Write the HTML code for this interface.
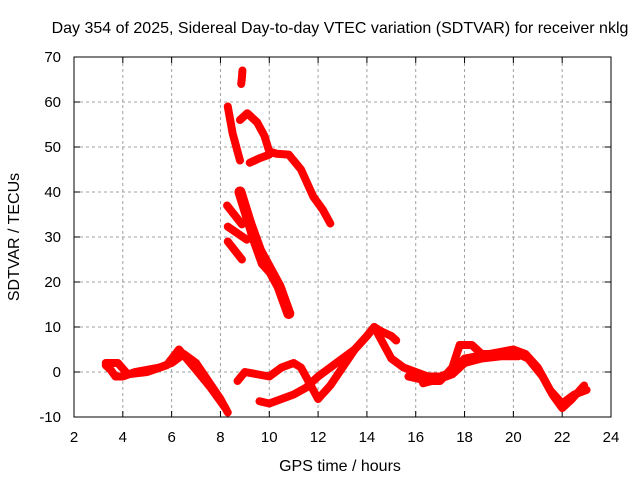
<!DOCTYPE html>
<html><head><meta charset="utf-8"><style>
body{margin:0;background:#fff}
svg{display:block;font-family:"Liberation Sans",sans-serif}
</style></head><body>
<svg id="c" width="640" height="480">
<text x="340" y="33" text-anchor="middle" font-size="16">Day 354 of 2025, Sidereal Day-to-day VTEC variation (SDTVAR) for receiver nklg</text>
<text x="340" y="471" text-anchor="middle" font-size="16">GPS time / hours</text>
<text x="19" y="237" text-anchor="middle" font-size="16" transform="rotate(-90 19 237)">SDTVAR / TECUs</text>
<g id="grid"></g><g id="marks"></g>
<rect x="74" y="57" width="537" height="360" fill="none" stroke="#000" stroke-width="1"/>
</svg>
<script>
const xTicks=[2,4,6,8,10,12,14,16,18,20,22,24];
const yTicks=[-10,0,10,20,30,40,50,60,70];
const trackA=[[3.3,1.5],[3.5,0.5],[3.7,-1],[4,-1],[4.5,0],[5,0.5],[5.5,1],[6,2],[6.5,4],[7,2],[7.5,-2],[8,-6],[8.3,-9]];
const trackA2=[[3.3,2],[3.8,2],[4.2,-0.5],[5,0],[5.8,1.5],[6.3,5],[7,0.5],[7.6,-3.5],[8.2,-8]];
const trackB=[[8.7,-2],[9,0],[9.5,-0.5],[10,-1],[10.5,1],[11,2],[11.3,1],[11.7,-3],[12,-6],[12.5,-3],[13,1],[13.5,5],[14,8],[14.3,10]];
const trackC=[[9.6,-6.5],[10,-7],[10.5,-6],[11,-5],[11.5,-3.5],[12,-1],[12.5,1],[13,3],[13.5,5],[14,8],[14.3,10],[14.6,9],[15,8],[15.2,7]];
const trackD=[[14.3,10],[14.6,7],[15,3],[15.5,1],[16,0],[16.5,-1],[17,-1],[17.5,0],[18,3],[18.5,3.5],[19,4],[19.5,4.5],[20,5],[20.5,4],[21,1],[21.5,-4],[22,-7],[22.5,-5],[23,-4]];
const trackD2=[[15.7,-1],[16.5,-2],[17,-2],[17.5,1],[17.8,6],[18.3,6],[18.7,4],[19.3,4],[20,4.5],[20.6,3],[21.2,-1],[21.6,-5],[22,-8],[22.4,-6],[22.9,-3]];
const trackD3=[[16.3,-2.5],[17,-1.5],[17.5,-0.5],[18,2],[18.7,3],[19.5,3.5],[20.2,3.5]];
const cluster=[[8.85,64],[8.88,65.5],[8.9,67]];
const trackE=[[8.3,59],[8.5,53],[8.8,47]];
const trackF=[[8.8,56],[9.1,57.5],[9.5,55.5],[9.8,52.5],[10,49],[10.3,48.5],[10.8,48.3],[11.3,45],[11.8,39],[12.2,36],[12.5,33]];
const trackF2=[[9.2,46.5],[9.6,47.5],[10,48.3]];
const trackG=[[8.8,40],[9.2,33],[9.6,27],[10,23],[10.4,19],[10.8,13]];
const trackG2=[[8.9,38],[9.3,30],[9.7,24],[10.2,21]];
const trackH1=[[8.27,37],[8.88,32.8]];
const trackH2=[[8.3,32.3],[9.08,29.4]];
const trackH3=[[8.3,29],[8.88,25]];
const X=h=>74+(h-2)*537/22, Y=v=>417-(v+10)*4.5;
const NS="http://www.w3.org/2000/svg";
const svg=document.getElementById('c'),grid=document.getElementById('grid'),marks=document.getElementById('marks');
function mk(t,a,p){const e=document.createElementNS(NS,t);for(const k in a)e.setAttribute(k,a[k]);p.appendChild(e);return e;}
xTicks.forEach(t=>{
 if(t>2&&t<24){const l=mk('line',{x1:X(t),x2:X(t),y1:57,y2:417,stroke:'#a0a0a0','stroke-dasharray':'3,3'},grid);
 
 }
 mk('line',{x1:X(t),x2:X(t),y1:417,y2:411,stroke:'#000'},grid);
 mk('line',{x1:X(t),x2:X(t),y1:57,y2:63,stroke:'#000'},grid);
 const tx=mk('text',{x:X(t),y:442,'text-anchor':'middle','font-size':15},svg);tx.textContent=t;
 
 
});
yTicks.forEach(t=>{
 if(t>-10&&t<70){const l=mk('line',{x1:74,x2:611,y1:Y(t),y2:Y(t),stroke:'#a0a0a0','stroke-dasharray':'3,3'},grid);
 
 }
 mk('line',{x1:74,x2:80,y1:Y(t),y2:Y(t),stroke:'#000'},grid);
 mk('line',{x1:611,x2:605,y1:Y(t),y2:Y(t),stroke:'#000'},grid);
 const tx=mk('text',{x:61,y:Y(t)+5,'text-anchor':'end','font-size':15},svg);tx.textContent=t;
 
 
});
const tracks=[trackA,trackA2,trackB,trackC,trackD,trackD2,trackD3,cluster,trackE,trackF,trackF2,trackG,trackG2,trackH1,trackH2,trackH3];
tracks.forEach((tr,i)=>{
 const w=(tr===trackG)?11:8;
 const p=mk('polyline',{points:tr.map(d=>X(d[0])+','+Y(d[1])).join(' '),fill:'none',stroke:'#ff0000','stroke-width':w,'stroke-linejoin':'round','stroke-linecap':'round'},marks);
 
 
});
</script>
</body></html>
